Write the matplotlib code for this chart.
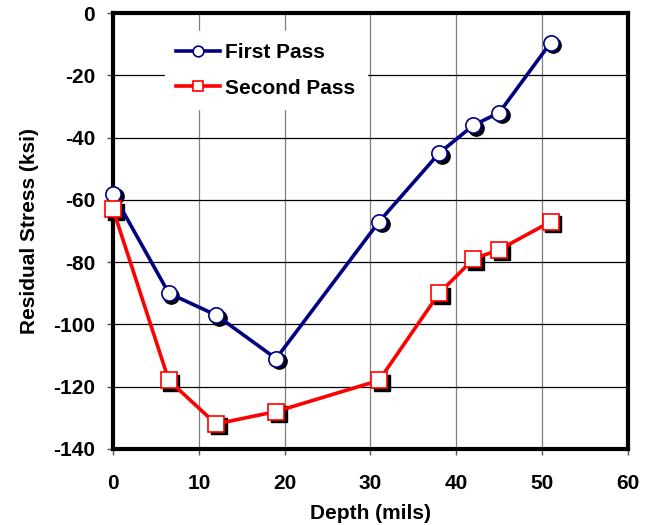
import matplotlib.pyplot as plt
from matplotlib.transforms import offset_copy

plt.rcParams['font.family'] = ['Liberation Sans', 'DejaVu Sans']
plt.rcParams['font.weight'] = 'bold'
plt.rcParams['axes.unicode_minus'] = False

depth = [0, 6.5, 12, 19, 31, 38, 42, 45, 51]
first_pass = [-58, -90, -97, -111, -67, -45, -36, -32, -9.5]
second_pass = [-63, -118, -132, -128, -118, -90, -79, -76, -67]

fig = plt.figure(figsize=(6.46, 5.25), dpi=100)
ax = fig.add_axes([0.175, 0.145, 0.797, 0.830])

# grid: vertical grey, horizontal black
for xv in range(10, 60, 10):
    ax.axvline(xv, color='#7f7f7f', lw=0.9, zorder=0)
for yv in range(-120, 0, 20):
    ax.axhline(yv, color='black', lw=0.9, zorder=0)

# black drop shadows behind the markers
shadow = offset_copy(ax.transData, fig=fig, x=2.5, y=-2.5, units='dots')
ax.plot(depth, first_pass, 'o', ms=11, color='black', transform=shadow, zorder=2, clip_on=False)
ax.plot(depth, second_pass, 's', ms=11, color='black', transform=shadow, zorder=2, clip_on=False)

ax.plot(depth, first_pass, '-o', color='#000080', lw=2.6, ms=11, mfc='white',
        mec='#000080', mew=1.2, label='First Pass', zorder=3, clip_on=False)
ax.plot(depth, second_pass, '-s', color='#ff0000', lw=2.6, ms=11, mfc='white',
        mec='#ff0000', mew=1.2, label='Second Pass', zorder=3, clip_on=False)

ax.set_xlim(0, 60)
ax.set_ylim(-140, 0)
ax.set_xticks(range(0, 61, 10))
ax.set_yticks(range(-140, 1, 20))
ax.tick_params(direction='out', length=4, width=1, labelsize=15, color='#555555')
ax.tick_params(axis='y', pad=9)
ax.tick_params(axis='x', pad=14)

for s in ax.spines.values():
    s.set_linewidth(3)

ax.set_xlabel('Depth (mils)', fontsize=15, fontweight='bold', labelpad=8)
ax.set_ylabel('Residual Stress (ksi)', fontsize=15, fontweight='bold', labelpad=10)

leg = ax.legend(loc='upper left', bbox_to_anchor=(0.1, 0.958), borderaxespad=0,
                fontsize=15, handlelength=2.1, handletextpad=0.25, labelspacing=0.8,
                markerscale=0.7, frameon=True, fancybox=False, framealpha=1,
                edgecolor='white', facecolor='white', borderpad=0.55)
leg.set_zorder(4)

fig.savefig('out.png', dpi=100)
